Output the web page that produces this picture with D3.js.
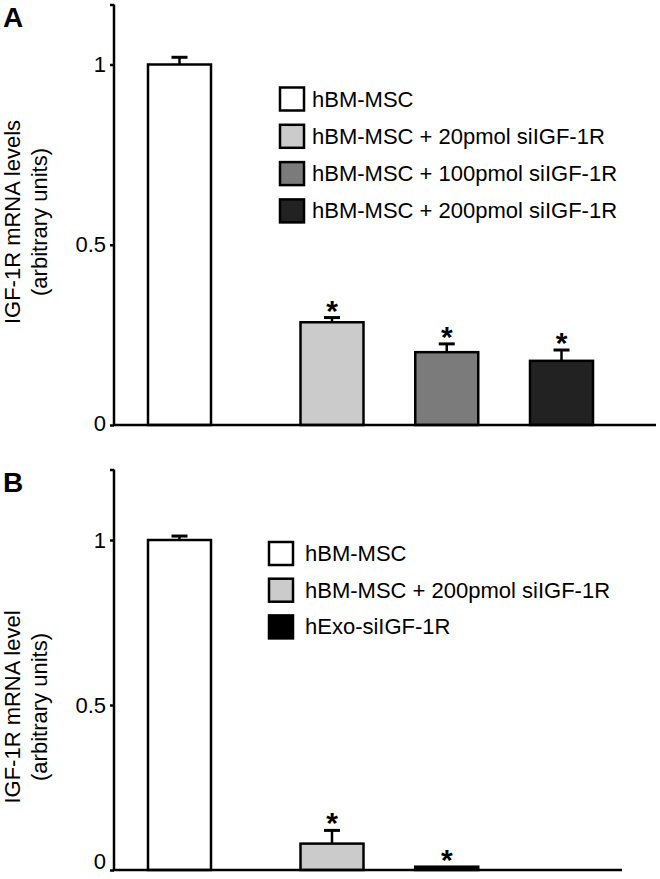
<!DOCTYPE html>
<html>
<head>
<meta charset="utf-8">
<script src="https://cdn.jsdelivr.net/npm/d3@7"></script>
<style>
  body { margin: 0; background: #fff; }
  svg text { font-family: 'Liberation Sans', Arial, sans-serif; fill: #000; }
</style>
</head>
<body>
<div id="container"></div>
<script>
// panel A
const groupsA = ['hBM-MSC', 'hBM-MSC + 20pmol siIGF-1R', 'hBM-MSC + 100pmol siIGF-1R', 'hBM-MSC + 200pmol siIGF-1R'];
const valuesA = [1.0, 0.285, 0.202, 0.178];
const errorsA = [0.02, 0.013, 0.023, 0.03];
const starsA = [false, true, true, true];
const coloursA = ['#ffffff', '#cbcbcb', '#7b7b7b', '#222222'];

// panel B
const groupsB = ['hBM-MSC', 'hBM-MSC + 200pmol siIGF-1R', 'hExo-siIGF-1R'];
const valuesB = [1.0, 0.08, 0.01];
const errorsB = [0.012, 0.04, 0];
const starsB = [false, true, true];
const coloursB = ['#ffffff', '#cbcbcb', '#000000'];

const yTicks = [0, 0.5, 1];

const svg = d3.select('#container').append('svg')
  .attr('width', 660)
  .attr('height', 879);

function panel(options) {
  const g = svg.append('g');
  const axisX = 114,
    barWidth = 63,
    stroke = 2.5;

  const y = d3.scaleLinear()
    .domain([0, 1])
    .range([options.y0, options.y1]);
  const yMax = y.invert(options.top);

  // control bar sits a little further away from the treated bars
  const x = d3.scaleLinear()
    .domain([0, 1, 3])
    .range([179.5, 332, 561.5]);

  const data = options.groups.map((name, i) => ({
    name: name,
    value: options.values[i],
    err: options.errors[i],
    star: options.stars[i],
    colour: options.colours[i],
    i: i
  }));

  // panel letter
  g.append('text')
    .attr('x', 3)
    .attr('y', options.top + 22)
    .style('font-size', '28px')
    .style('font-weight', 'bold')
    .text(options.letter);

  // y axis title
  const title = g.append('text')
    .attr('transform', 'translate(0,' + options.titleY + ') rotate(-90)')
    .attr('text-anchor', 'middle')
    .style('font-size', '22px');
  title.append('tspan').attr('x', 0).attr('y', 20).text(options.title);
  title.append('tspan').attr('x', 0).attr('y', 47).text('(arbitrary units)');

  // bars
  g.selectAll('.bar')
    .data(data)
    .enter().append('rect')
    .attr('class', 'bar')
    .attr('x', d => x(d.i) - barWidth / 2)
    .attr('y', d => y(d.value))
    .attr('width', barWidth)
    .attr('height', d => y(0) - y(d.value))
    .style('fill', d => d.colour)
    .style('stroke', '#000')
    .style('stroke-width', stroke);

  // error bars
  const err = g.selectAll('.err')
    .data(data.filter(d => d.err > 0))
    .enter().append('g')
    .attr('class', 'err');

  err.append('line')
    .attr('x1', d => x(d.i))
    .attr('x2', d => x(d.i))
    .attr('y1', d => y(d.value))
    .attr('y2', d => y(d.value + d.err))
    .style('stroke', '#000')
    .style('stroke-width', stroke);

  err.append('line')
    .attr('x1', d => x(d.i) - 8)
    .attr('x2', d => x(d.i) + 8)
    .attr('y1', d => y(d.value + d.err))
    .attr('y2', d => y(d.value + d.err))
    .style('stroke', '#000')
    .style('stroke-width', stroke + 0.5);

  g.selectAll('.star')
    .data(data.filter(d => d.star))
    .enter().append('text')
    .attr('class', 'star')
    .attr('x', d => x(d.i))
    .attr('y', d => y(d.value + d.err) + 3)
    .attr('text-anchor', 'middle')
    .style('font-size', '30px')
    .style('font-weight', 'bold')
    .text('*');

  // axes
  const yAxis = d3.axisLeft(y)
    .tickValues(yTicks.concat([yMax]))
    .tickFormat(d => d === yMax ? '' : d)
    .tickSize(4)
    .tickSizeOuter(0)
    .tickPadding(4);

  const ya = g.append('g')
    .attr('transform', 'translate(' + axisX + ',0)')
    .call(yAxis);
  ya.select('.domain').remove();
  ya.append('line')
    .attr('x1', 0).attr('x2', 0)
    .attr('y1', y(yMax)).attr('y2', y(0))
    .style('stroke', '#000')
    .style('stroke-width', stroke);
  ya.selectAll('.tick line').style('stroke-width', stroke);
  ya.selectAll('.tick text')
    .style('font-size', '22px')
    .style('font-family', "'Liberation Sans', Arial, sans-serif")
    .attr('fill', '#000')
    .attr('dy', d => d === 0 ? (0.32 - options.zeroLift / 22) + 'em' : '0.32em');

  g.append('line')
    .attr('x1', axisX - 1)
    .attr('x2', options.xEnd)
    .attr('y1', y(0))
    .attr('y2', y(0))
    .style('stroke', '#000')
    .style('stroke-width', stroke);

  // legend
  const legend = g.selectAll('.legend')
    .data(data)
    .enter().append('g')
    .attr('class', 'legend')
    .attr('transform', d => 'translate(' + options.legendX + ',' + (options.legendY + d.i * options.legendStep) + ')');

  legend.append('rect')
    .attr('width', 24)
    .attr('height', 23)
    .style('fill', d => d.colour)
    .style('stroke', '#000')
    .style('stroke-width', stroke);

  legend.append('text')
    .attr('x', options.legendText)
    .attr('y', 19)
    .style('font-size', '22px')
    .text(d => d.name);
}

panel({
  letter: 'A',
  groups: groupsA, values: valuesA, errors: errorsA, stars: starsA, colours: coloursA,
  y0: 425, y1: 64.5, top: 4.5, xEnd: 656, zeroLift: 2,
  title: 'IGF-1R mRNA levels', titleY: 222,
  legendX: 280, legendY: 87.5, legendStep: 37.3, legendText: 32
});

panel({
  letter: 'B',
  groups: groupsB, values: valuesB, errors: errorsB, stars: starsB, colours: coloursB,
  y0: 870, y1: 540, top: 469.5, xEnd: 622, zeroLift: 9,
  title: 'IGF-1R mRNA level', titleY: 707,
  legendX: 269, legendY: 542, legendStep: 36.7, legendText: 36
});
</script>
</body>
</html>
